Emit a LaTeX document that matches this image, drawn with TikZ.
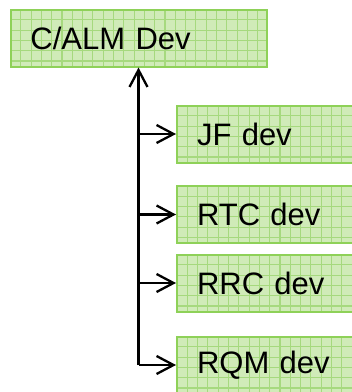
\documentclass[tikz,border=0pt]{standalone}
\usepackage{fontspec}
\setmainfont{Liberation Sans}
\usetikzlibrary{arrows.meta}
\definecolor{boxfill}{HTML}{D0EBB8}
\definecolor{boxgrid}{HTML}{A6D97E}
\definecolor{boxline}{HTML}{8ED158}
\tikzset{
  devbox/.style={rectangle, draw=boxline, line width=2pt, fill=boxfill,
    minimum height=57pt, inner xsep=20pt, inner ysep=0pt, align=left,
    font=\fontsize{31}{36}\selectfont,
    path picture={
      \foreach \i in {1,...,25}{
        \draw[boxgrid, line width=1.1pt]
          ([xshift=\i*10.3pt]path picture bounding box.north west) --
          ([xshift=\i*10.3pt]path picture bounding box.south west);}
      \foreach \j in {1,...,6}{
        \draw[boxgrid, line width=1.1pt]
          ([yshift=-\j*10.3pt]path picture bounding box.north west) --
          ([yshift=-\j*10.3pt]path picture bounding box.north east);}
    }},
  topbox/.style={devbox, minimum width=256pt, text width=216pt},
  sidebox/.style={devbox, minimum width=200pt, text width=160pt, anchor=west},
  arr/.style={line width=2.3pt, -{Straight Barb[length=17pt, width=18pt, line width=2.3pt]}}
}
\begin{document}
\begin{tikzpicture}[x=1pt, y=-1pt]
\useasboundingbox (0,0) rectangle (352,392);
\clip (0,0) rectangle (352,392);
\node[topbox] (top) at (138.5,38) {C/ALM Dev};
\node[sidebox] (jf) at (176,134) {JF dev};
\node[sidebox] (rtc) at (176,214.5) {RTC dev};
\node[sidebox] (rrc) at (176,283) {RRC dev};
\node[sidebox] (rqm) at (176,365) {RQM dev};
\coordinate (corner) at (top.south |- rqm.west);
\draw[arr] (corner) -- (top.south);
\draw[arr] (corner) -- (rqm.west);
\draw[arr] (top.south |- jf.west) -- (jf.west);
\draw[arr] (top.south |- rtc.west) -- (rtc.west);
\draw[arr] (top.south |- rrc.west) -- (rrc.west);
\end{tikzpicture}
\end{document}
